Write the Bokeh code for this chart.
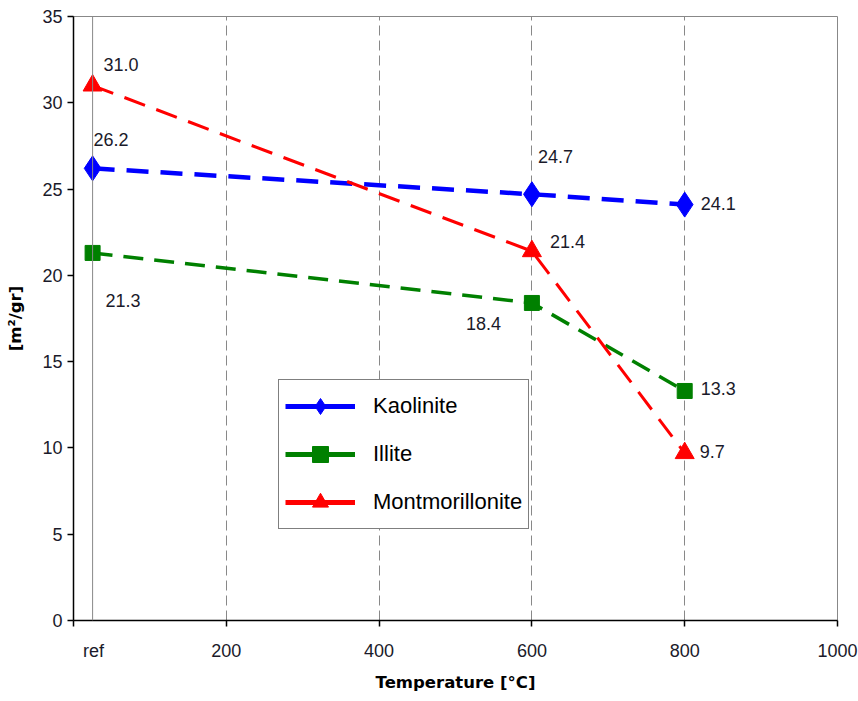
from bokeh.plotting import figure
from bokeh.models import FixedTicker, Span, Legend, LegendItem
from bokeh.core.properties import value
from bokeh.embed import file_html
from bokeh.resources import INLINE

# ---- data ----
temps = [25, 600, 800]            # "ref" sample placed just right of 0
kaolinite = [26.2, 24.7, 24.1]
illite = [21.3, 18.4, 13.3]
montmorillonite = [31.0, 21.4, 9.7]
series_names = ["Kaolinite", "Illite", "Montmorillonite"]
x_ticks = [0, 200, 400, 600, 800, 1000]
y_ticks = [0, 5, 10, 15, 20, 25, 30, 35]
ref_text = "ref"
x_title = "Temperature [°C]"
y_title = "[m²/gr]"

# ---- styling ----
FONT = "Liberation Sans"
NAN = float("nan")
NBSP = "\u00a0"
colors = ["#0000FF", "#008000", "#FF0000"]
markers = ["diamond", "square", "triangle"]
marker_sizes = [25, 15, 19]
line_widths = [4.5, 3.5, 3]
dashes = ["22 12", "20 11", "22 12"]
# label offsets (pixels) per point
label_dx = [[1, 6, 16], [13, -66, 16], [11, 18, 15]]
label_dy = [[-29, -38, -1], [48, 21, -2], [-21, -10, -2]]

p = figure(width=858, height=701, x_range=(0, 1000), y_range=(0, 35),
           output_backend="svg", toolbar_location=None)
p.min_border = 0
p.min_border_left = 73
p.min_border_right = 21
p.min_border_top = 16
p.min_border_bottom = 81
p.background_fill_color = "white"
p.border_fill_color = "white"
p.outline_line_color = "#888888"
p.outline_line_width = 1

# axes
for ax in (p.xaxis[0], p.yaxis[0]):
    ax.axis_line_color = "black"
    ax.axis_line_width = 1.5
    ax.major_tick_line_color = "black"
    ax.major_tick_line_width = 1.5
    ax.major_tick_out = 6
    ax.major_tick_in = 0
    ax.minor_tick_line_color = None
    ax.major_label_text_font = FONT
    ax.major_label_text_font_size = "18px"
    ax.major_label_text_color = "#1a1a2a"
    ax.axis_label_text_font = "DejaVu Sans"
    ax.axis_label_text_font_style = "bold"
    ax.axis_label_text_font_size = "16.5px"
    ax.axis_label_text_color = "black"

p.xaxis.ticker = FixedTicker(ticks=x_ticks)
p.xaxis.major_label_overrides = {x_ticks[0]: NBSP * 8 + ref_text}
p.xaxis.major_label_standoff = 14
p.xaxis.axis_label = x_title
p.xaxis.axis_label_standoff = 9
p.yaxis.ticker = FixedTicker(ticks=y_ticks)
p.yaxis.major_label_standoff = 5
p.yaxis.axis_label = y_title
p.yaxis.axis_label_standoff = 14

# grid
p.ygrid.grid_line_color = None
p.xgrid.ticker = FixedTicker(ticks=x_ticks[1:-1])
p.xgrid.grid_line_color = "#888888"
p.xgrid.grid_line_dash = "10 5"
p.xgrid.grid_line_width = 1

# reference vertical line
p.add_layout(Span(location=temps[0], dimension="height", line_color="#888888", line_width=1))

legend_items = []
for i, ys in enumerate([kaolinite, illite, montmorillonite]):
    p.line(temps, ys, line_color=colors[i], line_width=line_widths[i], line_dash=dashes[i])
    p.scatter(temps, ys, marker=markers[i], size=marker_sizes[i],
              fill_color=colors[i], line_color=colors[i])
    p.text(temps, ys, text=[f"{v:.1f}" for v in ys], x_offset=label_dx[i], y_offset=label_dy[i],
           text_font=value(FONT), text_font_size="18px", text_color="#1a1a2a",
           text_align="left", text_baseline="middle")
    dl = p.line([NAN], [NAN], line_color=colors[i], line_width=5)
    dm = p.scatter([NAN], [NAN], marker=markers[i], size=marker_sizes[i],
                   fill_color=colors[i], line_color=colors[i])
    legend_items.append(LegendItem(label=series_names[i], renderers=[dl, dm]))

legend = Legend(items=legend_items, location=(205, 91), margin=0, padding=6,
                spacing=8, glyph_width=70, glyph_height=40, label_height=40,
                label_standoff=18, label_text_font=FONT, label_text_font_size="22px",
                label_text_color="black", border_line_color="black", border_line_width=1,
                background_fill_color="white", background_fill_alpha=1)
p.add_layout(legend, "center")

open("out.html", "w").write(file_html(p, INLINE))
